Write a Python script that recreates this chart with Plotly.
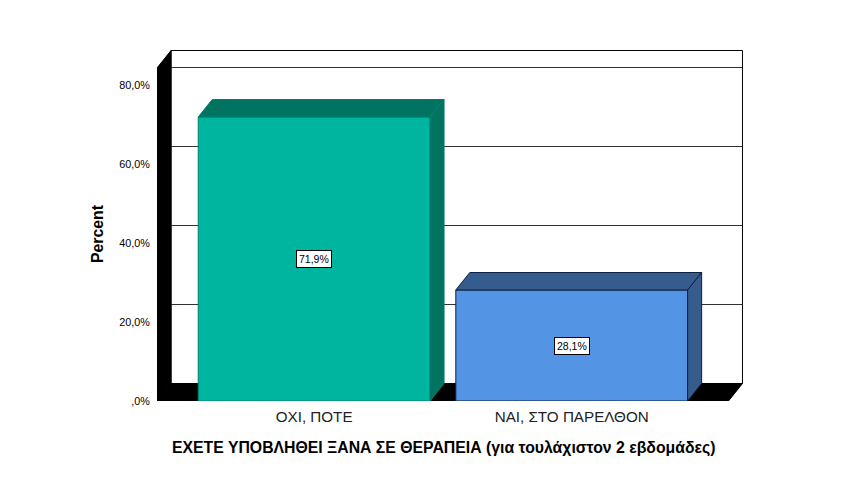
import plotly.graph_objects as go

categories = ["ΟΧΙ, ΠΟΤΕ", "ΝΑΙ, ΣΤΟ ΠΑΡΕΛΘΟΝ"]
percent = [71.9, 28.1]
value_labels = ["71,9%", "28,1%"]
y_ticks = [0, 20, 40, 60, 80]
y_tick_labels = [",0%", "20,0%", "40,0%", "60,0%", "80,0%"]
positions = [0, 1]

front_colors = ["#00B5A0", "#5394E4"]
side_colors = ["#007361", "#355C8C"]
edge_colors = ["#00806F", "#0B1F3F"]

# pseudo 3d depth, in axis units
DX = 0.0544
DY = 4.43
BAR_W = 0.9
X0, X1 = -0.61, 1.665
Y1 = 88.86
# keep the wall border inside the clip of the plot area
WALL_TOP = Y1 - 0.13
WALL_RIGHT = X1 - 0.002
FONT = "Liberation Sans, Arial, sans-serif"

fig = go.Figure()

# front faces
fig.add_trace(go.Bar(
    x=positions, y=percent, width=BAR_W,
    marker=dict(color=front_colors, line=dict(color=edge_colors, width=1)),
    hoverinfo="skip",
))

# top and side faces of each bar
for pos, val, side, edge in zip(positions, percent, side_colors, edge_colors):
    l, r = pos - BAR_W / 2, pos + BAR_W / 2
    fig.add_trace(go.Scatter(
        x=[l, r, r + DX, l + DX, l], y=[val, val, val + DY, val + DY, val],
        mode="lines", fill="toself", fillcolor=side,
        line=dict(color=edge, width=1), hoverinfo="skip",
    ))
    fig.add_trace(go.Scatter(
        x=[r, r + DX, r + DX, r, r], y=[0, DY, val + DY, val, 0],
        mode="lines", fill="toself", fillcolor=side,
        line=dict(color=edge, width=1), hoverinfo="skip",
    ))

# back wall, gridlines, left wall and floor
shapes = [dict(type="rect", xref="x", yref="y", x0=X0 + DX, x1=WALL_RIGHT, y0=DY, y1=WALL_TOP,
               fillcolor="white", line=dict(color="black", width=1), layer="below")]
for t in y_ticks[1:]:
    shapes.append(dict(type="line", xref="x", yref="y", x0=X0 + DX, x1=WALL_RIGHT, y0=t + DY, y1=t + DY,
                       line=dict(color="#333333", width=1), layer="below"))
shapes.append(dict(type="path", xref="x", yref="y", layer="below", fillcolor="black",
                   line=dict(color="black", width=1),
                   path=f"M {X0} 0 L {X0 + DX} {DY} L {X0 + DX} {WALL_TOP} L {X0} {WALL_TOP - DY} Z"))
shapes.append(dict(type="path", xref="x", yref="y", layer="below", fillcolor="black",
                   line=dict(color="black", width=1),
                   path=f"M {X0} 0 L {X0 + DX} {DY} L {WALL_RIGHT} {DY} L {WALL_RIGHT - DX} 0 Z"))

annotations = [
    dict(x=pos, y=val / 2, xref="x", yref="y", text=label, showarrow=False,
         font=dict(family=FONT, size=10.5, color="black"),
         bgcolor="white", bordercolor="black", borderwidth=1, borderpad=2)
    for pos, val, label in zip(positions, percent, value_labels)
]
# axis titles sit off the plot centre in the original
annotations.append(dict(
    text="<b>ΕΧΕΤΕ ΥΠΟΒΛΗΘΕΙ ΞΑΝΑ ΣΕ ΘΕΡΑΠΕΙΑ (για τουλάχιστον 2 εβδομάδες)</b>",
    xref="paper", yref="paper", x=(443.5 - 157) / 586, y=(401 - 448) / 351,
    xanchor="center", yanchor="middle",
    showarrow=False, font=dict(family=FONT, size=15.8, color="black"),
))
annotations.append(dict(
    text="<b>Percent</b>", textangle=-90,
    xref="paper", yref="paper", x=(97 - 157) / 586, y=(401 - 234) / 351,
    xanchor="center", yanchor="middle",
    showarrow=False, font=dict(family=FONT, size=15.8, color="black"),
))

fig.update_layout(
    width=835, height=485,
    margin=dict(l=149, r=100, t=42, b=92),
    paper_bgcolor="white", plot_bgcolor="white",
    showlegend=False,
    shapes=shapes,
    annotations=annotations,
    font=dict(family=FONT, color="black"),
)
fig.update_xaxes(
    range=[X0, X1], tickvals=positions, ticktext=categories,
    tickfont=dict(size=15.2, color="#222222"), ticks="outside", ticklen=2, tickcolor="white",
    showgrid=False, zeroline=False, showline=False,
)
fig.update_yaxes(
    range=[0, Y1], tickvals=y_ticks, ticktext=y_tick_labels,
    tickfont=dict(size=10.8), ticks="outside", ticklen=4, tickcolor="white",
    showgrid=False, zeroline=False, showline=False,
)

fig.write_html("out.html")
